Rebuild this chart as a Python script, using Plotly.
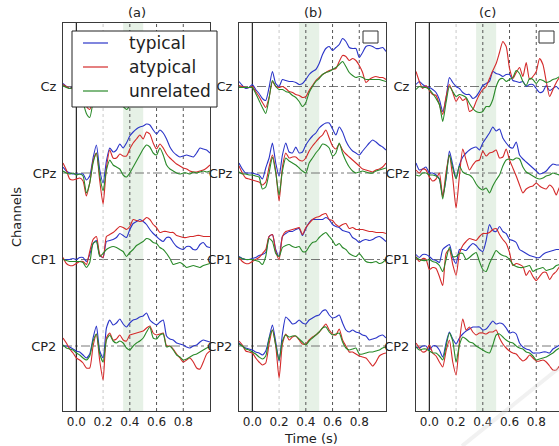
import plotly.graph_objects as go

TIME = [-0.1, -0.075, -0.05, -0.025, 0.0, 0.025, 0.05, 0.075, 0.1, 0.125,
        0.15, 0.175, 0.2, 0.225, 0.25, 0.275, 0.3, 0.325, 0.35, 0.375,
        0.4, 0.425, 0.45, 0.475, 0.5, 0.525, 0.55, 0.575, 0.6, 0.625,
        0.65, 0.675, 0.7, 0.725, 0.75, 0.775, 0.8, 0.825, 0.85, 0.875,
        0.9, 0.925, 0.95, 0.975, 1.0]
CHANNELS = ["Cz", "CPz", "CP1", "CP2"]
CHANNEL_OFFSETS = [25.95, 17.3, 8.65, 0.0]
CONDITIONS = ["typical", "atypical", "unrelated"]
PANELS = ["(a)", "(b)", "(c)"]
X_TICKS = [0.0, 0.2, 0.4, 0.6, 0.8]
X_TICK_LABELS = ["0.0", "0.2", "0.4", "0.6", "0.8"]
WINDOW = [0.35, 0.5]

# ---- panel (a) ----
A_CZ_TYP = [0.3,0.0,-0.2,0.0,0.1, -0.3,-0.8,-1.5,-1.6,-0.3, 1.2,0.2,-0.3,0.6,0.8, 0.5,0.6,0.4,0.1,0.0, 0.4,1.0,1.5,1.9,2.4, 3.0,3.4,3.6,3.3,3.5, 3.8,4.0,3.6,3.3,3.0, 3.2,2.8,3.0,3.3,3.4, 3.2,3.0,3.1,3.0,2.9]
A_CZ_ATY = [0.2,0.0,-0.2,-0.1,0.0, -0.5,-1.2,-2.0,-2.3,-1.2, 0.3,-0.2,-0.5,-0.3,-0.5, -0.8,-0.9,-1.0,-1.2,-1.3, -1.0,-0.4,0.2,0.8,1.2, 1.6,1.9,2.2,2.0,2.3, 2.6,2.8,2.5,2.2,2.0, 2.1,1.6,1.2,1.0,1.1, 1.0,0.9,0.8,0.9,0.8]
A_CZ_UNR = [0.1,-0.1,-0.2,-0.1,-0.1, -0.7,-1.6,-2.7,-3.1,-1.5, 0.2,-0.3,-0.6,-0.5,-0.8, -1.0,-1.3,-1.6,-2.0,-2.3, -1.9,-0.9,-0.2,0.4,0.8, 1.2,1.5,1.7,1.6,1.9, 2.1,2.2,1.8,1.3,1.0, 0.9,0.8,0.7,0.7,0.8, 0.6,0.6,0.5,0.6,0.5]
A_CPZ_TYP = [0.6,0.2,0.0,-0.1,-0.1, -0.1,-0.1,-0.7,-0.3,1.5, 2.8,0.3,-1.0,1.2,2.5, 2.1,2.3,2.9,2.5,3.0, 3.7,4.1,4.4,4.6,4.7, 4.9,4.8,4.3,3.9,4.3, 4.0,3.4,2.6,2.1,1.8, 1.6,1.7,1.8,1.7,1.6, 2.0,2.5,2.4,2.3,2.0]
A_CPZ_ATY = [1.0,0.3,-0.6,-0.7,-0.6, -0.5,-0.8,-2.3,-1.0,1.2, 2.0,-0.8,-3.1,0.5,2.3, 1.5,1.5,1.9,1.7,1.7, 2.4,3.0,3.4,3.8,3.4, 4.1,3.9,3.0,2.4,2.9, 2.5,1.9,1.5,1.2,0.9, 0.7,0.5,0.4,0.2,0.1, 0.1,0.2,0.3,0.5,0.8]
A_CPZ_UNR = [0.2,0.0,-0.1,0.0,-0.2, -0.1,-0.3,-2.0,-1.0,1.0, 2.0,-0.3,-1.8,0.3,1.3, 0.8,0.6,0.4,-0.2,-0.4, 0.0,0.6,1.2,1.8,2.4, 2.8,2.6,2.0,1.8,2.5, 1.8,0.8,0.4,0.2,0.0, -0.1,0.0,0.0,-0.1,0.1, 0.0,0.1,0.2,0.1,0.2]
A_CP1_TYP = [0.0,0.0,0.0,0.1,0.0, 0.2,0.2,-0.2,0.5,1.6, 1.9,0.4,0.2,1.8,1.9, 2.0,2.2,2.6,2.4,2.2, 3.0,3.6,3.8,4.0,3.8, 3.5,3.0,2.6,2.3,2.0, 1.8,2.2,2.2,1.7,1.3, 1.1,1.0,1.3,1.3,1.0, 1.0,1.5,1.7,1.3,1.2]
A_CP1_ATY = [0.2,-0.4,-0.6,-0.6,-0.4, -0.2,-0.2,-0.5,0.8,2.0, 2.3,0.5,0.2,2.3,2.5, 2.7,3.0,3.3,3.2,3.0, 3.3,4.0,3.9,3.8,3.9, 4.2,4.0,3.5,3.2,2.7, 2.8,2.8,2.7,2.7,2.4, 2.3,2.2,2.2,2.3,2.3, 2.4,2.4,2.3,2.3,2.3]
A_CP1_UNR = [0.0,-0.1,-0.2,-0.2,-0.2, -0.2,-0.3,-0.8,-0.3,1.6, 1.8,0.3,0.6,1.0,1.2, 1.3,1.2,1.0,0.8,0.3, 0.7,1.0,1.4,1.6,1.8, 2.1,2.0,1.7,1.6,1.2, 1.0,0.6,0.1,-0.5,-0.4, -0.3,-0.5,-0.8,-0.7,-0.6, -0.7,-0.8,-0.6,-0.5,-0.4]
A_CP2_TYP = [0.0,0.0,-0.1,-0.3,-0.5, -0.6,-0.9,-1.2,-0.8,0.8, 2.0,-0.5,-1.2,1.8,2.6, 2.1,2.3,2.7,2.2,1.9, 2.3,2.6,2.7,2.9,3.0, 3.3,2.6,2.3,2.1,2.4, 2.6,1.0,0.7,0.6,0.3, 0.2,0.1,-0.1,-0.2,0.0, 0.1,0.4,0.6,0.5,0.4]
A_CP2_ATY = [0.8,0.3,-0.3,-0.7,-1.2, -1.4,-1.7,-2.2,-2.2,0.0, 1.2,-1.5,-3.4,0.8,1.3, 0.6,0.7,1.1,0.6,0.5, 1.1,1.2,1.3,1.4,1.5, 1.8,2.0,1.3,1.1,1.2, 1.3,0.0,0.0,-0.3,-0.8, -1.2,-1.6,-1.4,-1.2,-1.6, -2.2,-2.3,-1.6,-0.8,-0.5]
A_CP2_UNR = [0.1,-0.2,-0.3,-0.4,-0.7, -0.9,-1.2,-1.4,-1.0,0.5, 1.2,-0.8,-1.6,0.6,1.1, 0.5,0.3,0.5,0.3,-0.2, -0.4,0.0,0.3,0.5,0.8, 1.4,1.9,0.8,0.7,1.1, 1.2,-0.1,0.0,-0.4,-0.9, -1.1,-1.4,-1.3,-1.1,-0.9, -0.8,-0.6,-0.4,-0.2,-0.1]

# ---- panel (b) ----
B_CZ_TYP = [0.5,0.1,-0.2,-0.1,0.2, -0.3,-0.7,-1.2,-1.4,-0.1, 1.5,0.3,0.0,0.7,0.6, 0.5,0.5,0.4,0.2,0.3, 0.7,1.2,1.5,1.7,2.3, 3.2,3.8,4.0,3.6,3.9, 4.2,4.8,4.5,3.9,3.8, 3.8,2.9,3.4,4.0,4.1, 4.0,3.8,3.8,3.9,3.5]
B_CZ_ATY = [0.1,0.0,-0.1,-0.1,0.0, -0.5,-1.0,-1.6,-2.1,-1.1, 0.5,0.0,-0.1,0.0,-0.2, -0.5,-0.6,-0.8,-0.9,-1.1, -1.0,-0.4,0.1,0.6,0.9, 1.2,1.4,1.6,1.7,1.8, 2.5,3.1,3.0,2.6,2.8, 2.6,2.1,1.4,0.4,0.7, 0.9,1.0,0.9,0.9,0.7]
B_CZ_UNR = [-0.1,-0.1,-0.1,-0.1,-0.1, -0.7,-1.4,-2.1,-2.7,-1.2, 0.6,0.0,-0.3,-0.3,-0.5, -0.6,-0.9,-1.1,-1.5,-2.0, -1.6,-0.6,0.0,0.5,0.8, 1.2,1.4,1.5,1.7,1.9, 2.2,2.5,2.0,1.4,1.1, 0.9,1.0,0.9,0.7,0.7, 0.7,0.7,0.7,0.6,0.5]
B_CPZ_TYP = [1.0,0.4,0.0,0.0,0.0, -0.1,-0.2,-0.6,0.5,1.5, 3.0,1.0,-0.3,1.8,3.0, 2.1,2.0,2.6,2.0,2.1, 2.8,3.3,3.7,4.0,4.5, 4.8,5.0,5.0,4.4,3.8, 4.6,4.1,3.2,2.6,2.2, 2.0,1.8,2.2,2.6,3.0, 3.3,3.1,2.8,2.6,2.3]
B_CPZ_ATY = [0.7,0.0,-0.5,-0.6,-0.7, -0.8,-0.9,-1.2,-0.9,0.6, 1.8,0.2,-2.8,0.6,2.0, 1.5,1.6,1.6,1.3,1.2, 1.5,2.2,2.7,3.1,3.5, 3.8,4.3,3.5,2.7,2.4, 2.9,2.3,1.9,1.6,1.3, 1.0,0.7,0.4,0.3,0.2, 0.1,0.3,0.4,0.6,1.0]
B_CPZ_UNR = [0.1,-0.1,-0.1,-0.2,-0.2, -0.3,-0.4,-1.6,-1.4,0.0, 1.6,0.0,-2.2,0.2,1.5, 1.2,1.0,0.8,0.5,0.2, 0.0,1.0,1.5,2.0,2.4, 2.9,2.8,2.5,1.7,2.0, 3.0,2.0,1.2,0.6,0.2, 0.0,0.1,0.2,0.1,0.0, 0.0,0.2,0.3,0.4,0.5]
B_CP1_TYP = [0.3,0.1,0.0,0.0,0.1, 0.2,0.4,0.5,0.7,2.3, 2.5,1.0,0.3,2.3,2.6, 2.8,2.8,3.0,3.1,2.4, 3.1,3.7,4.0,4.0,4.0, 4.0,4.2,4.0,3.5,3.3, 3.2,2.9,2.8,2.7,2.2, 2.0,1.7,1.9,2.0,1.9, 2.0,2.2,2.3,2.1,1.8]
B_CP1_ATY = [0.2,-0.2,-0.4,-0.4,-0.2, 0.0,0.2,0.6,1.0,2.3, 2.5,0.8,0.0,2.3,2.8, 2.9,3.0,3.1,3.2,2.5, 3.2,3.6,4.0,4.2,4.3, 4.5,4.6,4.0,3.9,3.5, 3.3,3.5,3.6,3.1,3.2, 3.0,3.0,3.0,2.9,2.8, 2.8,2.7,2.7,2.7,2.6]
B_CP1_UNR = [0.2,0.1,0.0,0.0,0.0, -0.1,-0.2,-0.5,0.3,2.1, 1.8,0.6,0.3,1.2,1.4, 1.5,1.3,1.2,1.3,0.8, 0.8,1.3,1.7,1.8,2.2, 2.5,2.7,2.3,1.9,1.4, 1.6,1.2,1.0,0.6,0.4, 0.3,0.6,0.2,-0.2,-0.3, -0.3,-0.2,-0.4,-0.3,0.0]
B_CP2_TYP = [0.3,0.0,-0.2,-0.3,-0.4, -0.6,-0.7,-0.9,-0.5,0.8, 2.1,0.4,-1.5,1.2,2.9, 2.6,2.2,2.3,2.6,2.3, 2.2,2.6,2.8,3.0,3.1, 3.5,3.6,3.1,2.8,2.9, 3.1,2.3,1.6,1.4,1.6, 1.4,1.3,1.1,1.0,0.6, 0.7,0.8,1.0,1.1,0.8]
B_CP2_ATY = [0.5,0.1,-0.5,-0.6,-0.7, -1.2,-1.6,-1.9,-1.7,0.2, 1.6,0.0,-3.2,0.2,1.2, 0.6,0.9,1.0,0.6,0.2, 0.2,0.6,0.9,1.1,1.4, 1.8,2.2,1.6,1.2,1.1, 1.7,0.6,0.0,-0.6,-0.6, -0.8,-1.0,-1.1,-1.2,-1.6, -2.0,-1.6,-1.0,-0.8,-0.7]
B_CP2_UNR = [0.2,0.0,-0.3,-0.4,-0.6, -0.8,-1.1,-1.3,-1.0,0.7, 1.6,0.1,-1.4,0.5,1.1, 0.9,1.0,1.0,0.7,0.4, 0.1,0.5,0.8,1.1,1.4, 1.8,1.9,1.4,1.1,1.2, 1.3,0.4,-0.2,-0.4,-0.3, -0.2,-0.8,-0.8,-0.7,-0.6, -0.6,-0.5,-0.4,-0.2,-0.1]

# ---- panel (c) ----
C_CZ_TYP = [0.2,0.5,0.2,0.0,-0.1, -0.3,-0.6,-1.3,-2.5,-1.2, 0.9,0.4,0.0,-0.2,-0.6, -0.8,-0.8,-1.2,-1.0,-0.5, 0.1,0.3,0.5,1.5,1.3, 1.2,1.0,1.2,1.2,0.6, 0.5,0.4,0.5,0.0,0.2, 0.2,-0.2,-0.6,-0.5,0.1, -0.4,-0.2,0.0,-0.3,-0.2]
C_CZ_ATY = [1.5,0.5,-0.2,0.1,-0.4, -0.8,-0.9,-1.8,-2.8,-1.0, 0.2,-0.6,-1.5,-1.0,-1.4, -1.2,-2.5,-2.3,-1.5,-0.8, -0.3,0.0,0.8,1.6,2.3, 3.4,4.5,4.0,1.8,0.8, 1.4,1.9,1.0,2.4,0.7, 1.0,1.5,2.8,2.2,0.5, -1.0,-0.3,0.4,0.9,1.0]
C_CZ_UNR = [-0.3,0.0,-0.1,-0.1,-0.3, -0.7,-1.2,-1.8,-3.5,-1.6, 0.0,-0.5,-1.0,-0.8,-0.9, -1.1,-1.7,-2.2,-2.5,-2.6, -2.5,-2.0,-2.0,-1.3,0.0, 0.7,0.8,0.5,0.7,0.9, 1.6,1.3,0.5,0.1,0.8, 0.7,0.3,0.7,0.6,0.4, 0.5,0.7,0.8,1.0,1.0]
C_CPZ_TYP = [1.0,0.3,0.4,0.6,0.0, 0.0,-0.2,-0.6,-2.3,-0.6, 2.2,0.8,-0.5,0.8,1.6, 2.0,2.3,2.5,2.6,2.3, 3.0,3.5,4.0,4.6,4.2, 4.4,3.5,3.0,2.6,2.5, 3.1,1.8,1.4,1.1,0.8, 0.5,0.2,-0.1,0.0,0.2, 0.6,0.9,0.8,0.8,0.7]
C_CPZ_ATY = [0.3,0.0,0.4,0.3,-0.4, -0.8,-0.6,0.0,-2.4,0.1, 1.8,-0.5,-3.5,-0.3,2.4, 1.3,0.3,0.8,1.2,1.3, 2.2,1.7,2.0,2.1,2.3, 1.5,1.6,2.4,1.3,0.5, -0.3,-1.2,-2.0,-1.6,-1.4, -1.3,-1.0,-1.3,-1.5,-1.6, -1.2,-1.5,-2.2,-1.4,-1.3]
C_CPZ_UNR = [-0.2,-0.3,0.0,0.0,-0.2, -0.2,-0.3,-0.6,-2.6,-0.4, 1.8,0.5,-0.6,0.7,0.1, -0.1,-0.2,-0.5,-1.1,-1.5, -1.7,-1.5,-2.0,-1.3,-0.7, -0.2,0.7,1.3,1.4,1.3, 1.5,1.4,0.6,0.1,-0.1, -0.3,-0.5,-0.6,-0.5,-0.3, -0.2,0.0,-0.1,-0.2,-0.2]
C_CP1_TYP = [0.5,0.2,0.5,0.5,0.3, 0.0,-0.1,-0.3,1.0,1.3, 1.5,0.2,-0.4,1.0,1.0, 0.9,1.3,1.6,1.4,1.0, 0.8,1.9,3.5,2.9,2.8, 3.3,2.8,2.6,2.0,1.9, 1.7,1.0,0.8,0.6,0.4, 0.3,0.2,0.2,0.5,0.7, 0.8,0.9,1.0,1.0,1.0]
C_CP1_ATY = [0.3,-0.2,0.1,0.0,-1.0, -0.8,-0.9,-1.7,-2.6,0.6, 1.0,-0.5,-1.6,0.6,1.4, 1.8,2.1,2.0,1.9,2.3, 2.6,2.6,2.7,3.0,3.1, 2.5,2.0,1.6,0.7,-0.6, -0.4,-0.5,-0.7,-1.6,-1.1, -1.7,-2.1,-1.7,-1.3,-1.3, -2.0,-1.5,-1.2,-0.7,-0.5]
C_CP1_UNR = [0.2,0.0,-0.1,-0.1,0.0, -0.2,-0.3,-0.6,-1.2,0.0, 1.2,0.3,0.3,0.6,0.6, 0.0,0.2,0.5,0.7,-0.2, -1.0,-1.2,-0.4,0.3,0.9, 0.6,0.4,0.3,0.0,-0.5, -0.7,-0.8,-0.8,-0.7,-0.6, -1.2,-1.0,-0.9,-0.8,-1.1, -1.0,-0.9,-0.6,-0.5,-0.4]
C_CP2_TYP = [-0.1,-0.2,0.0,0.0,-0.4, 0.0,0.0,-0.4,-1.1,0.3, 1.4,0.7,0.2,0.8,1.2, 1.5,1.7,1.9,1.9,1.9, 1.6,1.7,2.1,2.5,2.2, 2.3,2.2,1.8,1.3,1.4, 1.2,0.3,-0.1,-0.3,-0.4, -0.7,-0.7,-0.7,-0.6,-0.6, -0.7,-0.3,-0.1,0.1,0.2]
C_CP2_ATY = [0.3,-0.2,-0.6,-0.5,0.1, -0.7,-1.0,-1.6,-2.1,-0.5, 0.6,-1.6,-2.9,0.4,2.7, 1.6,1.9,1.4,1.1,1.3, 1.3,1.2,1.4,1.4,1.6, 0.8,0.2,-0.2,-0.5,-0.7, -0.8,-1.2,-1.5,-1.3,-0.9, -1.2,-1.5,-1.5,-1.4,-1.6, -2.0,-2.4,-2.4,-2.0,-1.8]
C_CP2_UNR = [-0.1,-0.4,-0.3,-0.3,-0.5, -0.7,-0.7,-1.0,-1.4,0.0, 1.3,0.5,-1.6,0.1,0.9, 0.7,0.4,0.3,0.0,-0.2, -0.4,-0.6,-0.7,0.1,1.1, 1.2,0.9,0.6,0.4,0.3, 0.0,-0.2,-0.3,-0.6,-0.7, -1.0,-1.4,-1.3,-1.2,-1.1, -0.9,-0.7,-0.4,-0.2,-0.1]

DATA = [
    [[A_CZ_TYP, A_CZ_ATY, A_CZ_UNR], [A_CPZ_TYP, A_CPZ_ATY, A_CPZ_UNR],
     [A_CP1_TYP, A_CP1_ATY, A_CP1_UNR], [A_CP2_TYP, A_CP2_ATY, A_CP2_UNR]],
    [[B_CZ_TYP, B_CZ_ATY, B_CZ_UNR], [B_CPZ_TYP, B_CPZ_ATY, B_CPZ_UNR],
     [B_CP1_TYP, B_CP1_ATY, B_CP1_UNR], [B_CP2_TYP, B_CP2_ATY, B_CP2_UNR]],
    [[C_CZ_TYP, C_CZ_ATY, C_CZ_UNR], [C_CPZ_TYP, C_CPZ_ATY, C_CPZ_UNR],
     [C_CP1_TYP, C_CP1_ATY, C_CP1_UNR], [C_CP2_TYP, C_CP2_ATY, C_CP2_UNR]],
]

# ---- styling / layout ----
W, H = 559, 446
COLORS = ["#2b35c8", "#d42a2a", "#2a8a2a"]
FONT = "DejaVu Sans"
PANEL_PX = [(63, 210), (239, 386), (416, 559)]
X_RANGES = [[-0.1, 1.0], [-0.1, 1.0], [-0.1, 0.9703]]
TOP_PX, BOT_PX = 23, 411
Y_RANGE = [-6.5, 32.3]
FRAME = "#3a3a3a"

fig = go.Figure()

for p in range(3):
    xa = "x" if p == 0 else f"x{p + 1}"
    ya = "y" if p == 0 else f"y{p + 1}"
    for c in range(4):
        for k in range(3):
            vals = DATA[p][c][k]
            fig.add_trace(go.Scatter(
                x=TIME, y=[v + CHANNEL_OFFSETS[c] for v in vals],
                xaxis=xa, yaxis=ya, mode="lines",
                line=dict(color=COLORS[k], width=1.1, shape="spline", smoothing=0.6),
                name=CONDITIONS[k], showlegend=False,
                hoverinfo="skip",
            ))

shapes = []
annotations = []
ydom = [1 - BOT_PX / H, 1 - TOP_PX / H]
for p in range(3):
    sfx = "" if p == 0 else str(p + 1)
    x0, x1 = PANEL_PX[p]
    xdom = [x0 / W, min(x1 / W, 1.0)]
    fig.layout[f"xaxis{sfx}"] = dict(
        domain=xdom, range=X_RANGES[p], anchor=f"y{sfx}",
        tickvals=X_TICKS, ticktext=X_TICK_LABELS, ticks="",
        showgrid=False, zeroline=False, showline=True, mirror=True,
        linecolor=FRAME, linewidth=1,
        tickfont=dict(family=FONT, size=12, color="#222"),
    )
    fig.layout[f"yaxis{sfx}"] = dict(
        domain=ydom, range=Y_RANGE, anchor=f"x{sfx}",
        tickvals=CHANNEL_OFFSETS, ticktext=CHANNELS, ticks="",
        showgrid=False, zeroline=False, showline=True, mirror=(p < 2),
        linecolor=FRAME, linewidth=1, ticklabelstandoff=3,
        tickfont=dict(family=FONT, size=13, color="#222"),
    )
    shapes.append(dict(type="rect", xref=f"x{sfx}", yref=f"y{sfx} domain",
                       x0=WINDOW[0], x1=WINDOW[1], y0=0, y1=1,
                       fillcolor="rgba(60,150,60,0.13)", line=dict(width=0),
                       layer="below"))
    for off in CHANNEL_OFFSETS:
        shapes.append(dict(type="line", xref=f"x{sfx} domain", yref=f"y{sfx}",
                           x0=0, x1=1, y0=off, y1=off,
                           line=dict(color="#555", width=0.8, dash="dashdot"),
                           layer="below"))
    for t in X_TICKS:
        if t == 0.0:
            ln = dict(color="#222", width=1.2)
        elif t == 0.2:
            ln = dict(color="#c8c8c8", width=1, dash="dot")
        else:
            ln = dict(color="#555", width=1, dash="dot")
        shapes.append(dict(type="line", xref=f"x{sfx}", yref=f"y{sfx} domain",
                           x0=t, x1=t, y0=0, y1=1, line=ln, layer="below"))
    annotations.append(dict(text=PANELS[p], xref="paper", yref="paper",
                            x=(x0 + min(x1, x0 + 147)) / 2 / W, y=1 - 13 / H,
                            showarrow=False, xanchor="center", yanchor="middle",
                            font=dict(family=FONT, size=13, color="#222")))

# legend box drawn in panel (a) (paper coordinates in pixels)
LEG_BOX = (72, 31, 217, 107)
LEG_ROWS = [43, 67, 91]
shapes.append(dict(type="rect", xref="paper", yref="paper",
                   x0=LEG_BOX[0] / W, x1=LEG_BOX[2] / W,
                   y0=1 - LEG_BOX[3] / H, y1=1 - LEG_BOX[1] / H,
                   line=dict(color="#222", width=1), fillcolor="white",
                   layer="above"))
for k, ry in enumerate(LEG_ROWS):
    shapes.append(dict(type="line", xref="paper", yref="paper",
                       x0=83 / W, x1=108 / W, y0=1 - ry / H, y1=1 - ry / H,
                       line=dict(color=COLORS[k], width=1.2), layer="above"))
    annotations.append(dict(text=CONDITIONS[k], xref="paper", yref="paper",
                            x=127 / W, y=1 - ry / H, showarrow=False,
                            xanchor="left", yanchor="middle",
                            font=dict(family=FONT, size=17, color="#222")))

# empty legend boxes in panels (b) and (c)
for bx in (363, 539):
    shapes.append(dict(type="rect", xref="paper", yref="paper",
                       x0=bx / W, x1=(bx + 15) / W, y0=1 - 43 / H, y1=1 - 31 / H,
                       line=dict(color="#333", width=1), fillcolor="white",
                       layer="above"))

# very faint watermark stroke
shapes.append(dict(type="line", xref="paper", yref="paper",
                   x0=462 / W, y0=0, x1=1.0, y1=1 - 368 / H,
                   line=dict(color="rgba(215,215,215,0.35)", width=4),
                   layer="above"))

annotations.append(dict(text="Time (s)", xref="paper", yref="paper",
                        x=311 / W, y=1 - 438 / H, showarrow=False,
                        xanchor="center", yanchor="middle",
                        font=dict(family=FONT, size=13, color="#222")))
annotations.append(dict(text="Channels", xref="paper", yref="paper",
                        x=17 / W, y=1 - 217 / H, showarrow=False, textangle=-90,
                        xanchor="center", yanchor="middle",
                        font=dict(family=FONT, size=13, color="#222")))

fig.update_layout(
    width=W, height=H, autosize=False,
    margin=dict(l=0, r=0, t=0, b=0),
    paper_bgcolor="white", plot_bgcolor="white",
    shapes=shapes, annotations=annotations,
    showlegend=False,
)

fig.write_html("out.html",
               config={"displayModeBar": False},
               post_script="document.body.style.margin='0';"
                           "document.body.style.overflow='hidden';")
